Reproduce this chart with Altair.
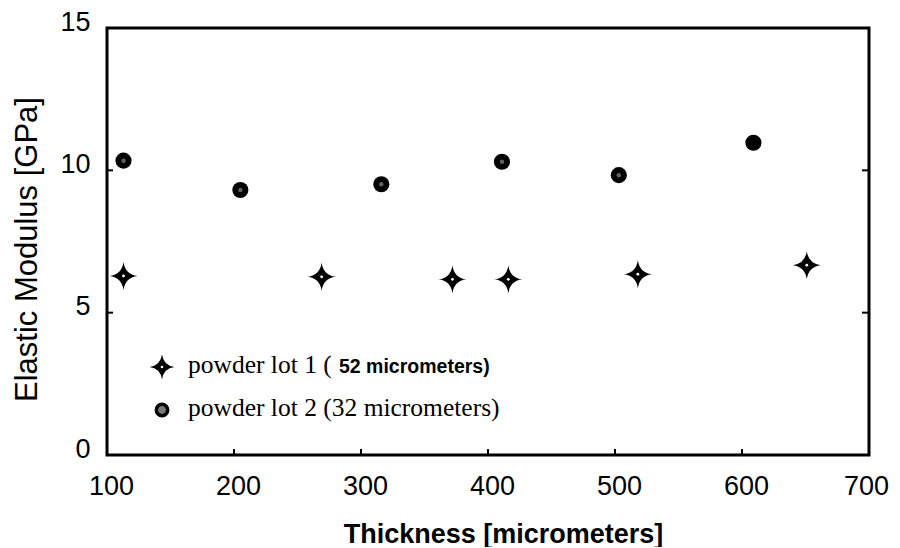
import altair as alt
import pandas as pd

# ---- data ----
lot1_thickness = [113, 269, 372, 416, 518, 651]
lot1_modulus = [6.29, 6.26, 6.17, 6.17, 6.35, 6.67]
lot2_thickness = [113, 205, 316, 411, 503, 609]
lot2_modulus = [10.34, 9.31, 9.51, 10.30, 9.83, 10.97]

x_tick_values = [100, 200, 300, 400, 500, 600, 700]
y_tick_values = [0, 5, 10, 15]
x_inner_ticks = [200, 300, 400, 500, 600]
y_inner_ticks = [5, 10]

legend1_serif = "powder lot 1 ("
legend1_sans = "52 micrometers)"
legend2_text = "powder lot 2 (32 micrometers)"

x_title = "Thickness [micrometers]"
y_title = "Elastic Modulus [GPa]"

W, H = 762, 427
STAR = "M0,-1 Q0.12,-0.12 1,0 Q0.12,0.12 0,1 Q-0.12,0.12 -1,0 Q-0.12,-0.12 0,-1 Z"

lot1 = pd.DataFrame({"thickness": lot1_thickness, "modulus": lot1_modulus})
lot2 = pd.DataFrame({"thickness": lot2_thickness, "modulus": lot2_modulus})

xs = alt.Scale(domain=[100, 700], nice=False, zero=False)
ys = alt.Scale(domain=[0, 15], nice=False, zero=True)

x_axis = alt.Axis(
    values=x_tick_values, title=x_title, grid=False, domain=False, ticks=False, tickSize=0,
    labelFont="Liberation Sans", labelFontSize=27, labelColor="black", labelPadding=18,
    labelOffset={"condition": {"test": "datum.value >= 700", "value": -3}, "value": 4},
    labelFlush=False, labelOverlap=False,
    titleFont="Liberation Sans", titleFontSize=27, titleFontWeight="bold", titleColor="black",
    titleX=396, titleY=87, titleBaseline="alphabetic", titleAlign="center",
)
y_axis = alt.Axis(
    values=y_tick_values, title=y_title, grid=False, domain=False, ticks=False, tickSize=0,
    labelFont="Liberation Sans", labelFontSize=27, labelColor="black", labelPadding=17,
    labelOffset=-6, labelFlush=False, labelOverlap=False, labelBaseline="middle",
    titleFont="Liberation Sans", titleFontSize=31, titleFontWeight="normal", titleColor="black",
    titleX=-64, titleY=221, titleAngle=270, titleBaseline="bottom", titleAlign="center",
)

base_x = alt.X("thickness:Q", scale=xs, axis=x_axis)
base_y = alt.Y("modulus:Q", scale=ys, axis=y_axis)

stars = alt.Chart(lot1).mark_point(
    shape=STAR, filled=True, color="black", size=780, opacity=1
).encode(x=base_x, y=base_y)

star_centers = alt.Chart(lot1).mark_point(
    shape="circle", filled=True, color="white", size=8, opacity=1
).encode(x=alt.X("thickness:Q", scale=xs), y=alt.Y("modulus:Q", scale=ys))

circles = alt.Chart(lot2).mark_point(
    shape="circle", filled=True, color="black", size=260, opacity=1
).encode(x=alt.X("thickness:Q", scale=xs), y=alt.Y("modulus:Q", scale=ys))

circle_specks = alt.Chart(lot2).transform_filter("datum.thickness < 600").mark_point(
    shape="circle", filled=True, color="#8a8a8a", size=20, opacity=0.7
).encode(x=alt.X("thickness:Q", scale=xs), y=alt.Y("modulus:Q", scale=ys))

# inward tick marks on the frame
tx = pd.DataFrame({"thickness": x_inner_ticks})
ty = pd.DataFrame({"modulus": y_inner_ticks})
bottom_ticks = alt.Chart(tx).mark_rule(color="black", strokeWidth=2).encode(
    x=alt.X("thickness:Q", scale=xs), y=alt.value(H), y2=alt.value(H - 6)
)
left_ticks = alt.Chart(ty).mark_rule(color="black", strokeWidth=2).encode(
    y=alt.Y("modulus:Q", scale=ys), x=alt.value(0), x2=alt.value(6)
)
right_ticks = alt.Chart(ty).mark_rule(color="black", strokeWidth=2).encode(
    y=alt.Y("modulus:Q", scale=ys), x=alt.value(W), x2=alt.value(W - 7)
)

# manual legend
one = pd.DataFrame({"k": [0]})
leg_star = alt.Chart(one).mark_point(
    shape=STAR, filled=True, color="black", size=620, opacity=1
).encode(x=alt.value(55), y=alt.value(339))
leg_star_c = alt.Chart(one).mark_point(
    shape="circle", filled=True, color="white", size=7, opacity=1
).encode(x=alt.value(55), y=alt.value(339))
leg_circle = alt.Chart(one).mark_point(
    shape="circle", filled=True, fill="#7a7a7a", stroke="black", strokeWidth=3.5, size=130, opacity=1
).encode(x=alt.value(55), y=alt.value(382))
leg_t1a = alt.Chart(one).mark_text(
    text=legend1_serif, font="Liberation Serif", fontSize=25.5, align="left",
    baseline="alphabetic", color="black"
).encode(x=alt.value(81), y=alt.value(345))
leg_t1b = alt.Chart(one).mark_text(
    text=legend1_sans, font="Liberation Sans", fontSize=19.5, fontWeight="bold", align="left",
    baseline="alphabetic", color="black"
).encode(x=alt.value(232), y=alt.value(345))
leg_t2 = alt.Chart(one).mark_text(
    text=legend2_text, font="Liberation Serif", fontSize=25.5, align="left",
    baseline="alphabetic", color="black"
).encode(x=alt.value(81), y=alt.value(388))

chart = alt.layer(
    stars, star_centers, circles, circle_specks,
    bottom_ticks, left_ticks, right_ticks,
    leg_star, leg_star_c, leg_circle, leg_t1a, leg_t1b, leg_t2,
).resolve_scale(x="shared", y="shared").properties(
    width=W, height=H,
    autosize=alt.AutoSizeParams(type="none"),
    padding={"left": 99, "top": 20, "right": 23, "bottom": 92},
    background="white",
).configure_view(
    stroke="black", strokeWidth=3
)

chart.save("out.html", embed_options={"renderer": "svg", "actions": False})
